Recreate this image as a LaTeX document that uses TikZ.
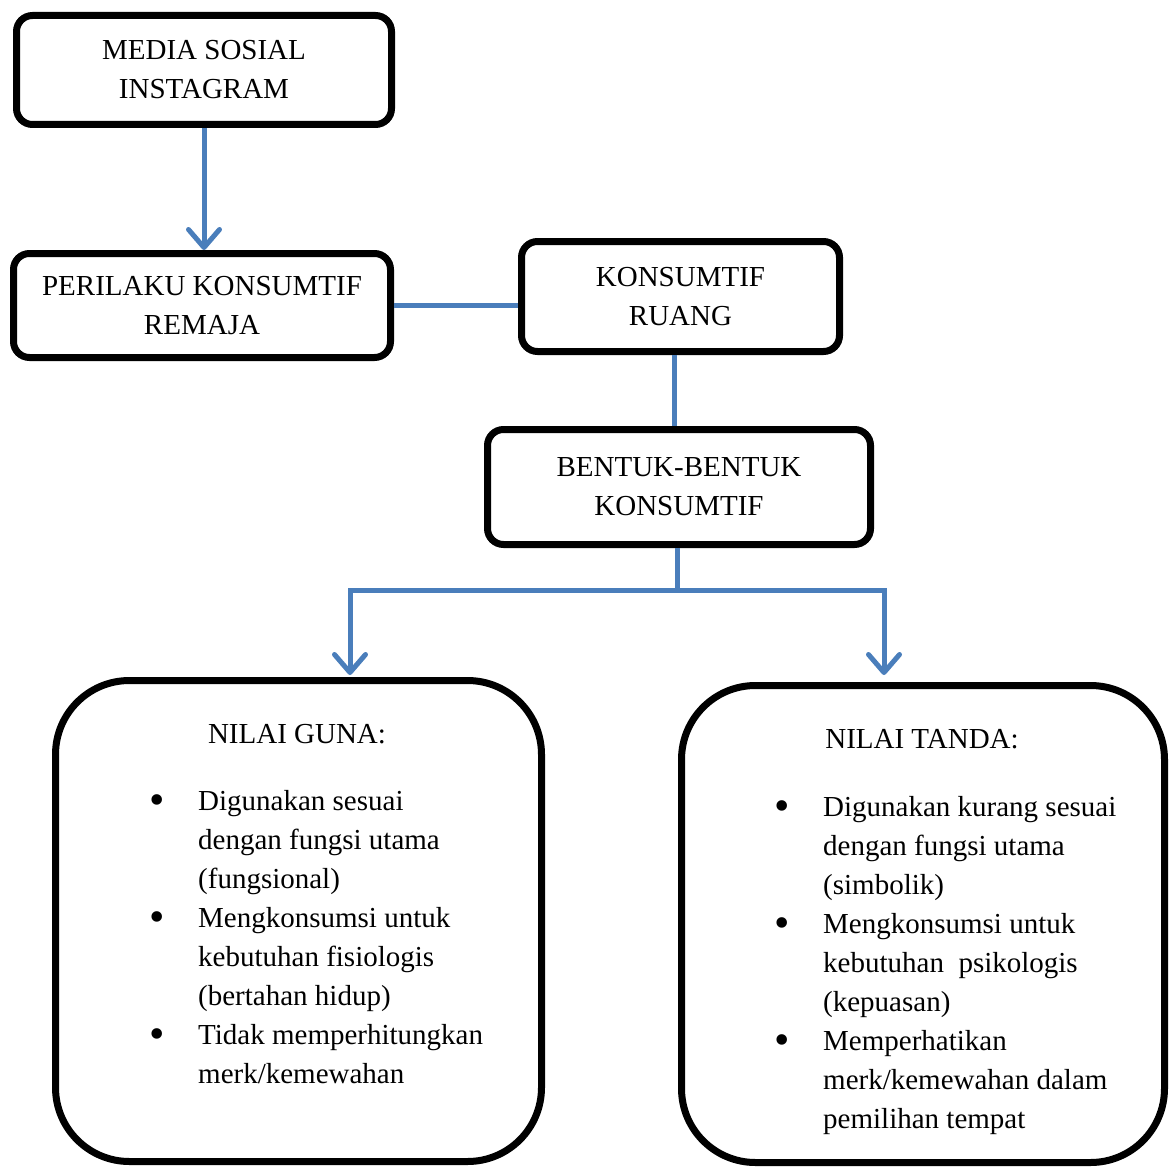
\documentclass[tikz,border=0pt]{standalone}
\usepackage{fontspec}
\setmainfont{Liberation Serif}
\usepackage{tikz}
\usetikzlibrary{arrows.meta,calc}
\definecolor{alurBlue}{HTML}{4A7EBB}
\newcommand{\listdot}{\makebox[10pt][c]{\raisebox{-4pt}{\fontsize{44}{39}\selectfont\textbullet}}}

\tikzset{
  box/.style={draw=black, line width=7pt, rounded corners=16pt, align=center,
    inner sep=0pt, font=\fontsize{29}{39}\selectfont},
  bigbox/.style={draw=black, line width=7pt, rounded corners=74pt, inner sep=0pt},
  listtext/.style={inner sep=0pt, anchor=north west, font=\fontsize{29}{39}\selectfont},
  conn/.style={draw=alurBlue, line width=5pt},
  arrow/.style={-{Straight Barb[length=18pt,width=31pt,round]}}
}

\begin{document}
\begin{tikzpicture}[x=1pt,y=-1pt]
    \useasboundingbox (0,0) rectangle (1172,1169);
    \node[box, minimum width=375pt, minimum height=109pt] (media) at (204,70)
      {MEDIA SOSIAL\\INSTAGRAM};
    \node[box, minimum width=377pt, minimum height=104pt] (perilaku) at (202,305.5)
      {PERILAKU KONSUMTIF\\REMAJA};
    \node[box, minimum width=318pt, minimum height=110pt] (ruang) at (680.5,296.5)
      {KONSUMTIF\\RUANG};
    \node[box, minimum width=383pt, minimum height=115pt] (bentuk) at (679,487)
      {BENTUK-BENTUK\\KONSUMTIF};
    \node[bigbox, minimum width=486pt, minimum height=481pt] (guna) at (298.5,921) {};
    \node[bigbox, minimum width=483pt, minimum height=477pt] (tanda) at (923,924) {};

    \node[font=\fontsize{29}{39}\selectfont, anchor=base] (gunatitle) at (297,743) {NILAI GUNA:};
    \node[listtext] (gunalist) at (152,783) {%
      \begin{tabular}{@{}l@{\hspace{36pt}}l@{}}
        \listdot & Digunakan sesuai\\
                 & dengan fungsi utama\\
                 & (fungsional)\\
        \listdot & Mengkonsumsi untuk\\
                 & kebutuhan fisiologis\\
                 & (bertahan hidup)\\
        \listdot & Tidak memperhitungkan\\
                 & merk/kemewahan\\
      \end{tabular}};
    \node[font=\fontsize{29}{39}\selectfont, anchor=base] (tandatitle) at (922,748) {NILAI TANDA:};
    \node[listtext] (tandalist) at (777,789) {%
      \begin{tabular}{@{}l@{\hspace{36pt}}l@{}}
        \listdot & Digunakan kurang sesuai\\
                 & dengan fungsi utama\\
                 & (simbolik)\\
        \listdot & Mengkonsumsi untuk\\
                 & kebutuhan\ \ psikologis\\
                 & (kepuasan)\\
        \listdot & Memperhatikan\\
                 & merk/kemewahan dalam\\
                 & pemilihan tempat\\
      \end{tabular}};

    \draw[conn, arrow] (media.south) -- (media.south |- perilaku.north);
    \draw[conn] (perilaku.east) -- (perilaku.east -| ruang.west);
    \draw[conn] ($(ruang.south)+(-6,0)$) -- ($(ruang.south |- bentuk.north)+(-6,0)$);
    \coordinate (fork) at ($(bentuk.south)+(-2,42)$);
    \draw[conn] ($(bentuk.south)+(-2,0)$) -- (fork);
    \draw[conn, arrow] (fork) -| ($(guna.north)+(51.5,-2)$);
    \draw[conn, arrow] (fork) -| ($(tanda.north)+(-39,-7)$);
  \end{tikzpicture}
\end{document}
